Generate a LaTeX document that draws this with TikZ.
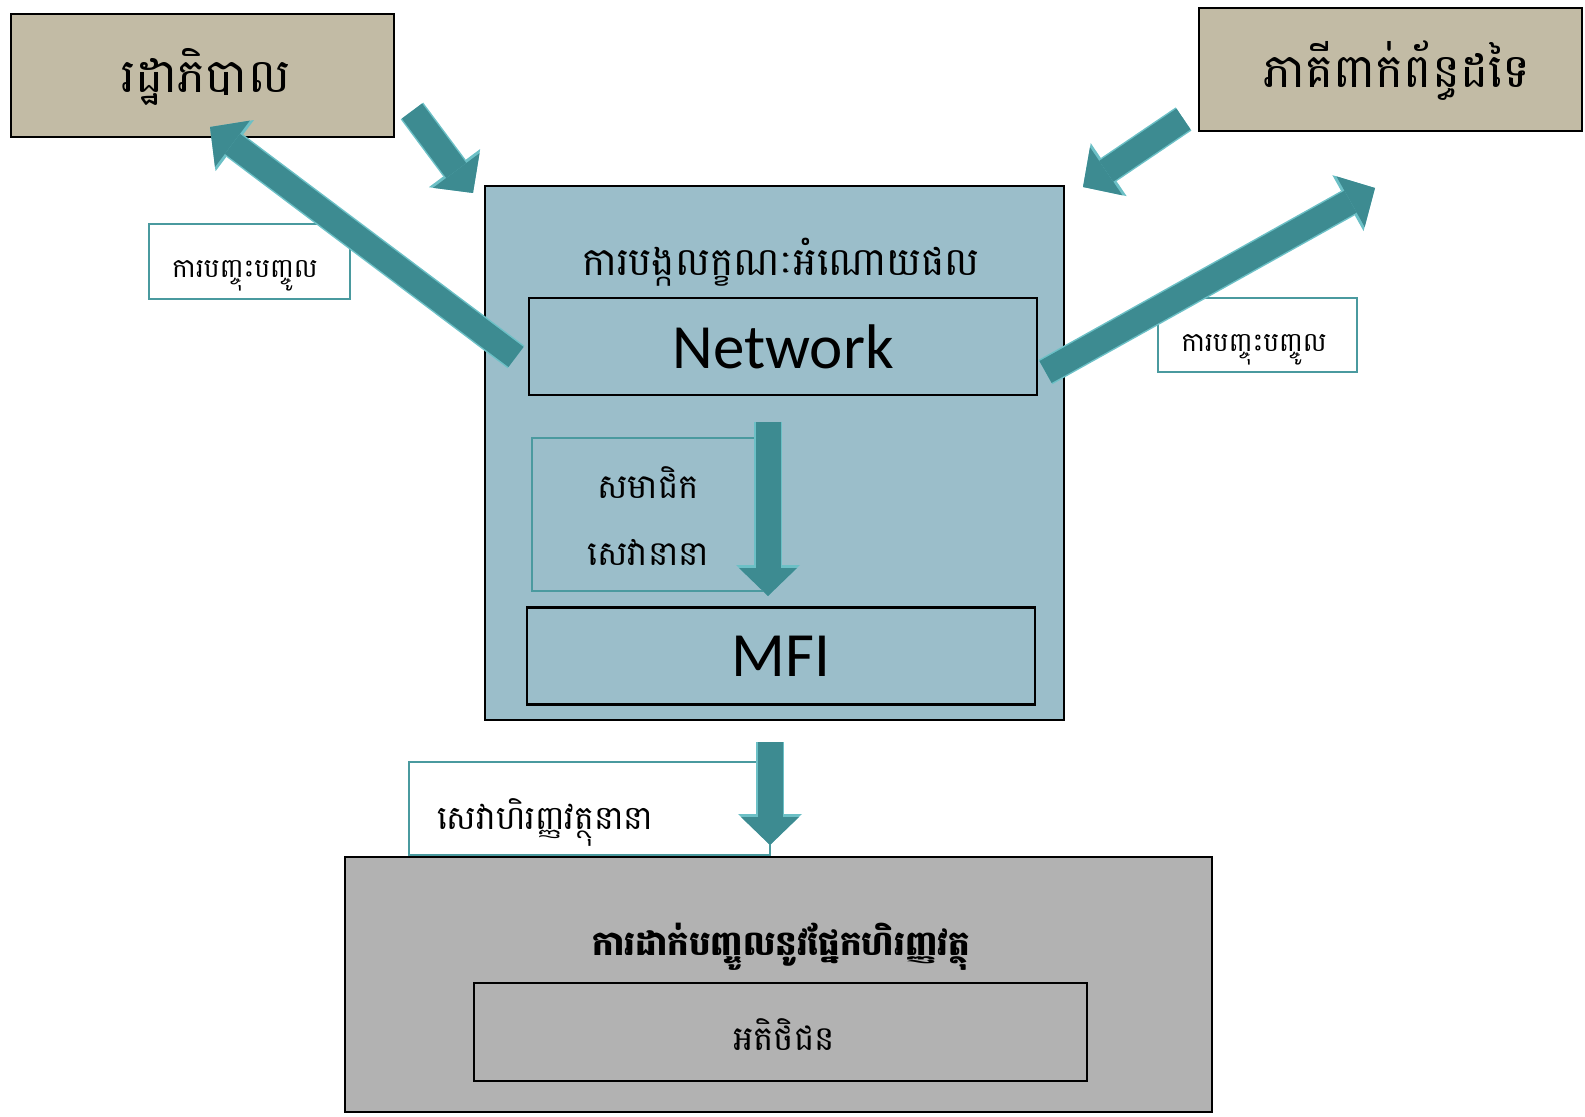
\documentclass[tikz,border=0pt]{standalone}
\usepackage{fontspec}
\newfontfamily\khmer[Script=Khmer]{Battambang}
\newfontfamily\calib{Carlito}
\usetikzlibrary{arrows.meta}
\definecolor{boxtan}{HTML}{C2BBA5}
\definecolor{hubblue}{HTML}{9BBECA}
\definecolor{basegray}{HTML}{B2B2B2}
\definecolor{flowfill}{HTML}{3D8B91}
\definecolor{flowedge}{HTML}{6CC0C6}
\definecolor{tagedge}{HTML}{4A9A9F}
\tikzstyle{party}=[draw=black,fill=boxtan,line width=1.2pt,minimum width=191.5pt,minimum height=61.5pt]
\tikzstyle{partytext}=[font=\khmer\fontsize{23.5}{28}\selectfont]
\tikzstyle{hub}=[draw=black,fill=hubblue,line width=1.2pt,minimum width=289.5pt,minimum height=267pt]
\tikzstyle{unit}=[draw=black,line width=1.2pt,minimum width=254pt,minimum height=48.5pt,font=\calib\fontsize{31.5}{36}\selectfont]
\tikzstyle{tag}=[draw=tagedge,fill=white,line width=1.2pt]
\tikzstyle{tagtext}=[font=\khmer\fontsize{13.3}{16}\selectfont]
\tikzstyle{memo}=[draw=tagedge,line width=1.2pt,minimum width=116.5pt,minimum height=76.5pt]
\tikzstyle{flow}=[draw=flowfill,line width=12.5pt,-{Triangle[width=29pt,length=14pt,line width=0pt]},
  preaction={draw=flowedge,line width=14pt,-{Triangle[width=32pt,length=15.5pt,line width=0pt]}}]

\begin{document}
\begin{tikzpicture}[x=0.5pt,y=-0.5pt]
  \useasboundingbox (0,0) rectangle (1585,1117);
  \node[hub] at (774.5,453) (hub) {};
  \node[font=\khmer\fontsize{19.5}{24}\selectfont] at (781,262) (hubtitle) {ការបង្កលក្ខណៈអំណោយផល};
  \node[unit] at (783,346.5) (net) {Network};
  \node[unit] at (781,656) (mfi) {MFI};
  \node[memo] at (648.5,514.5) (members) {};
  \node[font=\khmer\fontsize{17}{20}\selectfont] at (648,483) (memtop) {សមាជិក};
  \node[font=\khmer\fontsize{17}{20}\selectfont] at (648,552) (membot) {សេវានានា};
  \node[party] at (202.5,75.5) (gov) {};
  \node[partytext] at (206,77) (govtext) {រដ្ឋាភិបាល};
  \node[party] at (1390.5,69.5) (stake) {};
  \node[partytext] at (1397,71) (staketext) {ភាគីពាក់ព័ន្ធដទៃ};
  \node[draw=black,fill=basegray,line width=1.2pt,minimum width=433.5pt,minimum height=127.5pt] at (778.5,984.5) (base) {};
  \node[font=\khmer\bfseries\fontsize{17}{20}\selectfont] at (781,947) (basetitle) {ការដាក់បញ្ចូលនូវផ្នែកហិរញ្ញវត្ថុ};
  \node[draw=black,line width=1.2pt,minimum width=306.5pt,minimum height=49pt] at (780.5,1032) (clients) {};
  \node[font=\khmer\fontsize{17}{20}\selectfont] at (784,1035) (clientstext) {អតិថិជន};
  \node[tag,minimum width=180.5pt,minimum height=46.5pt] at (589.5,808.5) (svc) {};
  \node[anchor=west,font=\khmer\fontsize{16.5}{20}\selectfont] at (430,822) (svctext) {សេវាហិរញ្ញវត្ថុនានា};
  \node[tag,minimum width=100.5pt,minimum height=37.5pt] at (249.5,261.5) (lobbyL) {};
  \node[tagtext] at (245,276) (lobbyLtext) {ការបញ្ចុះបញ្ចូល};
  \node[tag,minimum width=99.5pt,minimum height=37pt] at (1257.5,335) (lobbyR) {};
  \node[tagtext] at (1254,350) (lobbyRtext) {ការបញ្ចុះបញ្ចូល};
  \coordinate (govfoot) at (516,357);
  \coordinate (govtip) at (210,127);
  \coordinate (govout) at (412,111);
  \coordinate (hubinL) at (473,193);
  \coordinate (stakeout) at (1183.5,119);
  \coordinate (hubinR) at (1083,187);
  \coordinate (netfoot) at (1045.5,372);
  \coordinate (staketip) at (1375,188);
  \coordinate (netdown) at (768,422);
  \coordinate (mfitip) at (768,596);
  \coordinate (hubdown) at (770,742);
  \coordinate (basetip) at (770,845);
  \draw[flow] (govfoot) -- (govtip);
  \draw[flow] (govout) -- (hubinL);
  \draw[flow] (stakeout) -- (hubinR);
  \draw[flow] (netfoot) -- (staketip);
  \draw[flow] (netdown) -- (mfitip);
  \draw[flow] (hubdown) -- (basetip);
\end{tikzpicture}
\end{document}
